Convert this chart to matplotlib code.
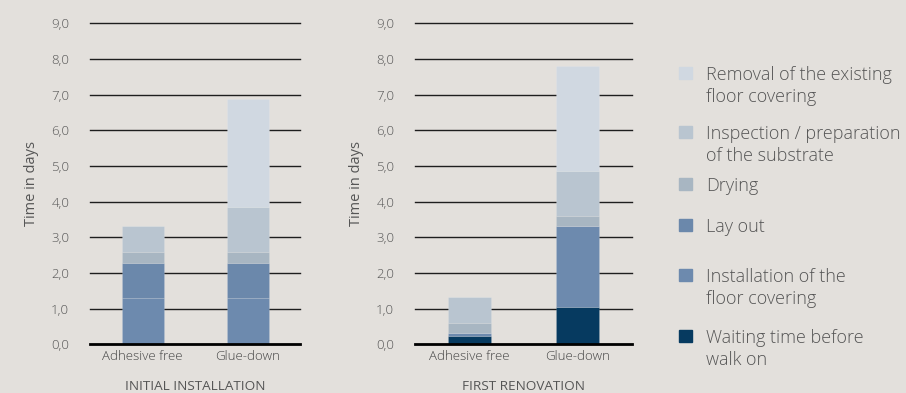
import matplotlib.pyplot as plt
from matplotlib.patches import Rectangle

plt.rcParams['font.family'] = ['Open Sans', 'DejaVu Sans']
plt.rcParams['font.weight'] = 'light'

categories = ['Adhesive free', 'Glue-down']
titles = ['INITIAL INSTALLATION', 'FIRST RENOVATION']
yticks = [0, 1, 2, 3, 4, 5, 6, 7, 8, 9]
ytick_labels = ['0,0', '1,0', '2,0', '3,0', '4,0', '5,0', '6,0', '7,0', '8,0', '9,0']

# stacked from bottom to top
phases = ['Waiting time before\nwalk on',
          'Installation of the\nfloor covering',
          'Lay out',
          'Drying',
          'Inspection / preparation\nof the substrate',
          'Removal of the existing\nfloor covering']
colors = ['#063a60', '#6d8aae', '#6b88ab', '#a8b6c2', '#b9c5d0', '#d0d8e1']

initial = [
    [0.00, 0.00],   # waiting
    [1.29, 1.29],   # installation
    [1.00, 1.00],   # lay out
    [0.31, 0.31],   # drying
    [0.72, 1.26],   # inspection
    [0.00, 3.02],   # removal
]
renovation = [
    [0.23, 1.05],
    [0.09, 2.28],
    [0.00, 0.00],
    [0.29, 0.28],
    [0.72, 1.25],
    [0.00, 2.94],
]

bg = '#e3e0dc'
fig = plt.figure(figsize=(9.06, 3.93), dpi=100, facecolor=bg)

W, H = 906, 393
axes_px = [(90, 300), (415, 632)]
y0, y9 = 344.3, 23.3

for k, (data, title) in enumerate([(initial, titles[0]), (renovation, titles[1])]):
    xl, xr = axes_px[k]
    ax = fig.add_axes([xl / W, (H - y0) / H, (xr - xl) / W, (y0 - y9) / H])
    ax.set_facecolor(bg)
    ax.set_ylim(0, 9)
    ax.set_xlim(-0.5, 1.5)
    bottom = [0, 0]
    for vals, c in zip(data, colors):
        ax.bar([0, 1], vals, width=0.4, bottom=bottom, color=c,
               edgecolor=(1, 1, 1, 0.12), linewidth=0.6, zorder=3)
        bottom = [b + v for b, v in zip(bottom, vals)]
    for y in yticks[1:]:
        ax.axhline(y, color='#1e1e1e', lw=1.0, zorder=1, clip_on=False)
    ax.axhline(0, color='#000000', lw=2.0, zorder=4, clip_on=False)
    for s in ax.spines.values():
        s.set_visible(False)
    ax.set_yticks(yticks)
    ax.set_yticklabels(ytick_labels, fontsize=9.5, color='#555555')
    ax.tick_params(axis='y', length=0, pad=15)
    ax.set_xticks([0, 1])
    ax.set_xticklabels(categories, fontsize=9.5, color='#444444')
    ax.tick_params(axis='x', length=0, pad=4)
    ax.set_ylabel('Time in days', fontsize=10.5, color='#555555', labelpad=9)
    ax.set_xlabel(title, fontsize=9.7, color='#555555', labelpad=12)

# legend
leg_y = [73, 132, 184, 225, 275, 336]
for name, c, yy in zip(phases[::-1], colors[::-1], leg_y):
    fig.patches.append(Rectangle((679 / W, (H - yy - 6) / H), 13 / W, 12 / H,
                                 transform=fig.transFigure, color=c))
    fig.text(706 / W, (H - yy + 7) / H, name, fontsize=13, color='#555555',
             va='top', ha='left', linespacing=1.32)

fig.savefig('out.png', dpi=100, facecolor=bg)
